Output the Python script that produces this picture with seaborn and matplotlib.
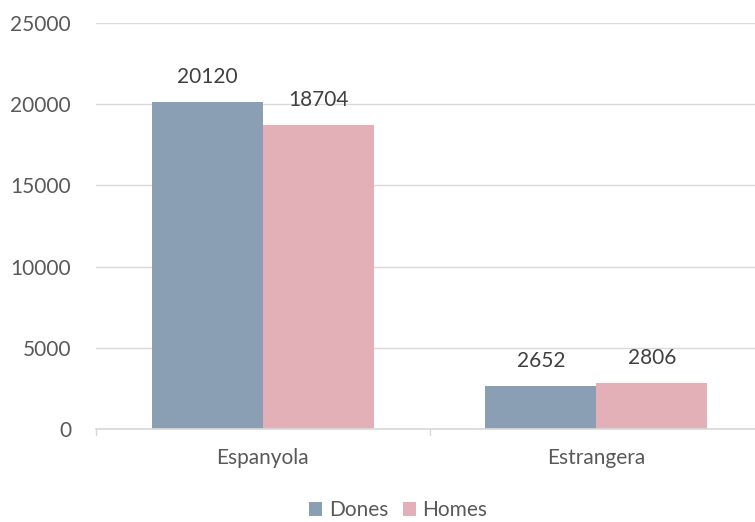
import numpy as np
import pandas as pd
import matplotlib.pyplot as plt
import seaborn as sns

categories = ["Espanyola", "Estrangera"]
dones = [20120, 2652]
homes = [18704, 2806]
series = ["Dones", "Homes"]
colors = ["#8A9FB4", "#E4B0B8"]

df = pd.DataFrame({
    "cat": categories * 2,
    "sexe": ["Dones"] * 2 + ["Homes"] * 2,
    "valor": dones + homes,
})

sns.set_theme(style="white")
plt.rcParams["font.family"] = ["Lato", "DejaVu Sans"]

fig = plt.figure(figsize=(7.55, 5.22), dpi=100)
# axes extends a bit past the right edge, like the original
ax = fig.add_axes([96 / 755, 1 - 429 / 522, (763 - 96) / 755, (429 - 23) / 522])

sns.barplot(data=df, x="cat", y="valor", hue="sexe", palette=colors,
            hue_order=series, order=categories, width=0.665, saturation=1,
            linewidth=0, ax=ax, legend=True)

ax.set_ylim(0, 25000)
ax.set_xlim(-0.5, 1.5)
ax.set_yticks(np.arange(0, 25001, 5000))
ax.yaxis.grid(True, color="#D9D9D9", linewidth=1)
ax.set_axisbelow(True)
for s in ["top", "right", "left"]:
    ax.spines[s].set_visible(False)
ax.spines["bottom"].set_color("#D9D9D9")
ax.set_xlabel("")
ax.set_ylabel("")
fs = 15
ax.tick_params(axis="y", length=0, pad=18, labelsize=fs, labelcolor="#595959")
ax.tick_params(axis="x", length=0, pad=14, labelsize=fs, labelcolor="#595959")

# category separator ticks
for xv in [-0.5, 0.5, 1.5]:
    ax.plot([xv, xv], [0, -350], color="#D9D9D9", lw=1, clip_on=False)

for c in ax.containers:
    ax.bar_label(c, fmt="%d", padding=11, fontsize=fs, color="#404040")

ax.legend(loc="center", bbox_to_anchor=(0.453, -0.2),
          ncol=2, frameon=False, fontsize=fs, handlelength=0.65, handleheight=0.65,
          handletextpad=0.3, columnspacing=0.7, labelcolor="#595959")

fig.savefig("out.png", dpi=100)
